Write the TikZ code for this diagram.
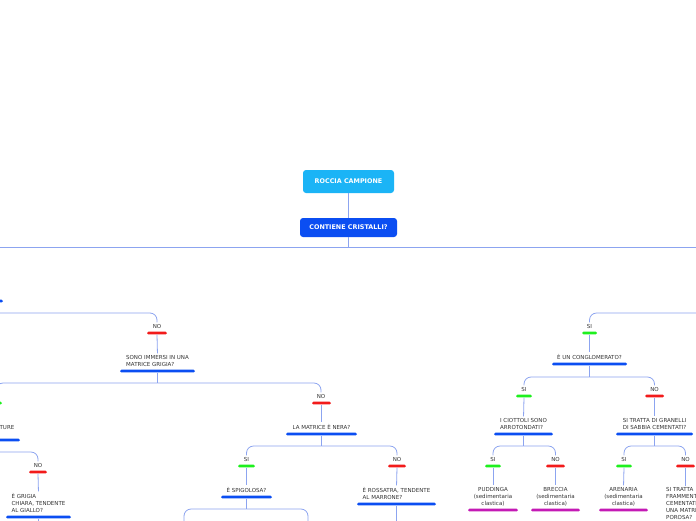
\documentclass[tikz,border=0pt]{standalone}
\usepackage{fontspec}
\setmainfont{DejaVu Sans}
\definecolor{rootc}{HTML}{1BB4F6}
\definecolor{blueb}{HTML}{0B4EF2}
\definecolor{redb}{HTML}{F21B1B}
\definecolor{greenb}{HTML}{1EF01E}
\definecolor{magb}{HTML}{C41AB5}
\definecolor{connc}{HTML}{8CA4F0}
\definecolor{txt}{HTML}{333333}
\begin{document}
\begin{tikzpicture}[x=1pt,y=-1pt,
  lbl/.style={font=\fontsize{5.5}{7}\selectfont, text=txt, inner sep=0pt, anchor=south, align=left},
  leaf/.style={lbl, align=center},
  bar/.style={fill=#1, rounded corners=1.4pt, inner sep=0pt, minimum height=2.8pt},
  topbox/.style={fill=#1, rounded corners=3pt, text=white, font=\fontsize{6.4}{7}\selectfont\bfseries, inner sep=0pt},
  conn/.style={draw=connc, line width=0.8pt},
  rc/.style={conn, rounded corners=7pt, shorten >=1.5pt},
  sc/.style={conn, shorten >=1.5pt}]
\clip (0,0) rectangle (696,520);
\fill[white] (0,0) rectangle (696,520);

% top nodes
\node[topbox=rootc, minimum width=91pt, minimum height=23pt] (root) at (348.5,181.5) {ROCCIA CAMPIONE};
\node[topbox=blueb, minimum width=97pt, minimum height=19pt] (q0) at (348.5,227.5) {CONTIENE CRISTALLI?};
\coordinate (h0) at (348.5,247);
\coordinate (hl) at (-20,247);
\coordinate (hr) at (716,247);

% left part
\node[bar=blueb, minimum width=40pt] (bl0) at (-17,301) {};
\coordinate (cl0) at (-20,313);
\node[lbl] (no1) at (157,328.5) {NO};
\node[bar=redb, minimum width=20pt] (bno1) at (157,333) {};
\node[lbl] (q1) at (157.5,366.5) {SONO IMMERSI IN UNA\\MATRICE GRIGIA?};
\node[bar=blueb, minimum width=75pt] (bq1) at (157.5,371) {};
\coordinate (h1) at (157.5,383);
\coordinate (sl) at (-4,398);
\node[bar=greenb, minimum width=16pt] (bsl) at (-6,403) {};
\node[lbl] (no2) at (321,398.5) {NO};
\node[bar=redb, minimum width=19pt] (bno2) at (321.5,403) {};
\node[lbl] (q2) at (321.5,429.5) {LA MATRICE È NERA?};
\node[bar=blueb, minimum width=71pt] (bq2) at (321.5,434) {};
\coordinate (h2) at (321.5,446);
\node[lbl, anchor=south east] (q3) at (14.5,429.5) {TURE};
\node[bar=blueb, minimum width=40pt] (bq3) at (0,440) {};
\coordinate (cl3) at (-20,452);
\node[lbl] (no3) at (38,467.5) {NO};
\node[bar=redb, minimum width=18pt] (bno3) at (38,472) {};
\node[lbl] (q4) at (38.5,512.5) {È GRIGIA\\CHIARA, TENDENTE\\AL GIALLO?};
\node[bar=blueb, minimum width=65pt] (bq4) at (38.5,517) {};
\coordinate (e4) at (38.5,530);
\node[lbl] (si4) at (246.5,461.5) {SI};
\node[bar=greenb, minimum width=17pt] (bsi4) at (246.5,466) {};
\node[lbl] (no4) at (397,461.5) {NO};
\node[bar=redb, minimum width=18pt] (bno4) at (397,466) {};
\node[lbl] (q5) at (246.5,492.5) {È SPIGOLOSA?};
\node[bar=blueb, minimum width=51pt] (bq5) at (246.5,497) {};
\coordinate (h5) at (246.5,509);
\coordinate (e5l) at (184,530);
\coordinate (e5r) at (308,530);
\node[lbl] (q6) at (396.5,499.5) {È ROSSATRA, TENDENTE\\AL MARRONE?};
\node[bar=blueb, minimum width=79pt] (bq6) at (396.5,504) {};
\coordinate (e6) at (396.5,530);

% right part
\coordinate (cr0) at (716,313);
\node[lbl] (si5) at (589.5,328.5) {SI};
\node[bar=greenb, minimum width=15pt] (bsi5) at (589.5,333) {};
\node[lbl] (q7) at (589.5,359.5) {È UN CONGLOMERATO?};
\node[bar=blueb, minimum width=75pt] (bq7) at (589.5,364) {};
\coordinate (h7) at (589.5,377);
\node[lbl] (si6) at (524,391.5) {SI};
\node[bar=greenb, minimum width=16pt] (bsi6) at (524,396) {};
\node[lbl] (no6) at (654.5,391.5) {NO};
\node[bar=redb, minimum width=19pt] (bno6) at (654.5,396) {};
\node[lbl] (q8) at (523.5,429.5) {I CIOTTOLI SONO\\ARROTONDATI?};
\node[bar=blueb, minimum width=59pt] (bq8) at (523.5,434) {};
\coordinate (h8) at (523.5,446);
\node[lbl] (q9) at (654.5,429.5) {SI TRATTA DI GRANELLI\\DI SABBIA CEMENTATI?};
\node[bar=blueb, minimum width=77pt] (bq9) at (654.5,434) {};
\coordinate (h9) at (654.5,446);
\node[lbl] (si7) at (493,461.5) {SI};
\node[bar=greenb, minimum width=16pt] (bsi7) at (493,466) {};
\node[lbl] (no7) at (555.5,461.5) {NO};
\node[bar=redb, minimum width=19pt] (bno7) at (555.5,466) {};
\node[lbl] (si8) at (624,461.5) {SI};
\node[bar=greenb, minimum width=16pt] (bsi8) at (624,466) {};
\node[lbl] (no8) at (685.5,461.5) {NO};
\node[bar=redb, minimum width=19pt] (bno8) at (685.5,466) {};
\node[leaf] (l1) at (493,506) {PUDDINGA\\(sedimentaria\\clastica)};
\node[bar=magb, minimum width=50pt] (bl1) at (493,510) {};
\node[leaf] (l2) at (555.5,506) {BRECCIA\\(sedimentaria\\clastica)};
\node[bar=magb, minimum width=49pt] (bl2) at (555.5,510) {};
\node[leaf] (l3) at (623.5,506) {ARENARIA\\(sedimentaria\\clastica)};
\node[bar=magb, minimum width=49pt] (bl3) at (623.5,510) {};
\node[lbl, anchor=north west] (q10) at (666,487.5) {SI TRATTA\\FRAMMENT\\CEMENTATI\\UNA MATRI\\POROSA?};

% connectors
\draw[conn] (root.south) -- (q0.north);
\draw[conn] (q0.south) -- (h0);
\draw[conn] (hl) -- (hr);
\draw[rc] (cl0) -| (no1.north);
\draw[sc] (bno1.south) -- (q1.north);
\draw[conn] (bq1.south) -- (h1);
\draw[rc] (h1) -| (no2.north);
\draw[rc] (h1) -| (sl);
\draw[sc] (bno2.south) -- (q2.north);
\draw[conn] (bq2.south) -- (h2);
\draw[rc] (h2) -| (si4.north);
\draw[rc] (h2) -| (no4.north);
\draw[rc] (cl3) -| (no3.north);
\draw[sc] (bno3.south) -- (q4.north);
\draw[conn] (bq4.south) -- (e4);
\draw[sc] (bsi4.south) -- (q5.north);
\draw[sc] (bno4.south) -- (q6.north);
\draw[conn] (bq5.south) -- (h5);
\draw[rc] (h5) -| (e5l);
\draw[rc] (h5) -| (e5r);
\draw[conn] (bq6.south) -- (e6);
\draw[rc] (cr0) -| (si5.north);
\draw[sc] (bsi5.south) -- (q7.north);
\draw[conn] (bq7.south) -- (h7);
\draw[rc] (h7) -| (si6.north);
\draw[rc] (h7) -| (no6.north);
\draw[sc] (bsi6.south) -- (q8.north);
\draw[sc] (bno6.south) -- (q9.north);
\draw[conn] (bq8.south) -- (h8);
\draw[rc] (h8) -| (si7.north);
\draw[rc] (h8) -| (no7.north);
\draw[conn] (bq9.south) -- (h9);
\draw[rc] (h9) -| (si8.north);
\draw[rc] (h9) -| (no8.north);
\draw[sc] (bsi7.south) -- (l1.north);
\draw[sc] (bno7.south) -- (l2.north);
\draw[sc] (bsi8.south) -- (l3.north);
\draw[sc] (bno8.south) -- (q10.north west -| bno8.south);
\end{tikzpicture}
\end{document}
